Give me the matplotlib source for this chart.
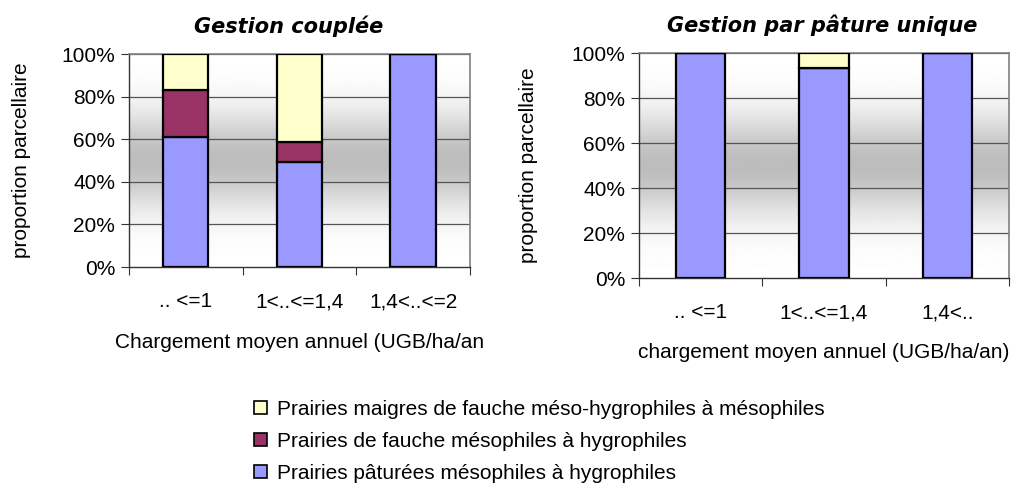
import numpy as np
import matplotlib
matplotlib.use("Agg")
import matplotlib.pyplot as plt
from matplotlib.patches import Patch

plt.rcParams["font.family"] = ["Liberation Sans", "DejaVu Sans"]

# --- data ------------------------------------------------------------------
series_names = [
    "Prairies pâturées mésophiles à hygrophiles",
    "Prairies de fauche mésophiles à hygrophiles",
    "Prairies maigres de fauche méso-hygrophiles à mésophiles",
]
series_colors = ["#9999FF", "#993366", "#FFFFCC"]

left_title = "Gestion couplée"
left_xlabel = "Chargement moyen annuel (UGB/ha/an"
left_cats = [".. <=1", "1<..<=1,4", "1,4<..<=2"]
left_pature = [61.0, 49.5, 100.0]
left_fauche = [22.0, 9.0, 0.0]
left_maigres = [17.0, 41.5, 0.0]

right_title = "Gestion par pâture unique"
right_xlabel = "chargement moyen annuel (UGB/ha/an)"
right_cats = [".. <=1", "1<..<=1,4", "1,4<.."]
right_pature = [100.0, 93.5, 100.0]
right_fauche = [0.0, 0.0, 0.0]
right_maigres = [0.0, 6.5, 0.0]

ylabel = "proportion parcellaire"
yticks = [0, 20, 40, 60, 80, 100]

FS = 15


def gradient_bg(ax):
    # white at top and bottom, grey in the middle (Excel-style fill)
    t = np.linspace(0, 1, 256)
    grey = 1.0 - 0.26 * np.exp(-((t - 0.5) / 0.22) ** 2)
    img = np.repeat(grey[:, None], 2, axis=1)
    ax.imshow(img, cmap="gray", vmin=0, vmax=1, aspect="auto",
              extent=(-0.5, 2.5, 0, 100), origin="lower", zorder=0)


def draw(ax, cats, stacks, title, xlabel, ylab_pad, xlab_pad, title_x):
    x = np.arange(len(cats))
    gradient_bg(ax)
    bottom = np.zeros(len(cats))
    for vals, col in zip(stacks, series_colors):
        vals = np.array(vals)
        ax.bar(x, vals, 0.40, bottom=bottom, color=col, edgecolor="black",
               linewidth=1.6, zorder=3)
        bottom += vals
    ax.set_xlim(-0.5, 2.5)
    ax.set_ylim(0, 100)
    ax.set_yticks(yticks)
    ax.set_yticklabels([f"{v}%" for v in yticks], fontsize=FS)
    for v in yticks[1:]:
        ax.axhline(v, color="#555555", lw=0.9, zorder=1)
    ax.set_xticks([-0.5, 0.5, 1.5, 2.5])
    ax.set_xticklabels([])
    ax.set_xticks(x, minor=True)
    ax.set_xticklabels(cats, minor=True, fontsize=FS)
    ax.tick_params(axis="x", which="minor", length=0, pad=18)
    ax.tick_params(axis="x", which="major", length=6, direction="out",
                   color="#333333")
    ax.tick_params(axis="y", length=6, direction="out", color="#333333", pad=4)
    for s in ["top", "right"]:
        ax.spines[s].set_color("#808080")
        ax.spines[s].set_linewidth(1.2)
    for s in ["left", "bottom"]:
        ax.spines[s].set_color("#333333")
        ax.spines[s].set_linewidth(1.0)
    ax.set_title(title, fontsize=15, fontweight="bold", style="italic",
                 family="DejaVu Sans", pad=15, x=title_x)
    ax.set_ylabel(ylabel, fontsize=FS, labelpad=ylab_pad)
    ax.set_xlabel(xlabel, fontsize=FS, labelpad=xlab_pad)


fig = plt.figure(figsize=(10.15, 4.83), dpi=100)
ax1 = fig.add_axes([0.127, 0.447, 0.336, 0.441])
ax2 = fig.add_axes([0.6296, 0.424, 0.3645, 0.466])

draw(ax1, left_cats, [left_pature, left_fauche, left_maigres],
     left_title, left_xlabel, 22, 16, 0.469)
draw(ax2, right_cats, [right_pature, right_fauche, right_maigres],
     right_title, right_xlabel, 24, 15, 0.495)

handles = [Patch(facecolor=c, edgecolor="black", linewidth=1.2, label=n)
           for n, c in zip(series_names, series_colors)][::-1]
fig.legend(handles=handles, loc="upper left", bbox_to_anchor=(0.250, 0.172),
           frameon=False, fontsize=FS, handlelength=0.62, handleheight=0.62,
           handletextpad=0.5, labelspacing=0.62, borderpad=0, borderaxespad=0)

fig.savefig("out.png", dpi=100)
